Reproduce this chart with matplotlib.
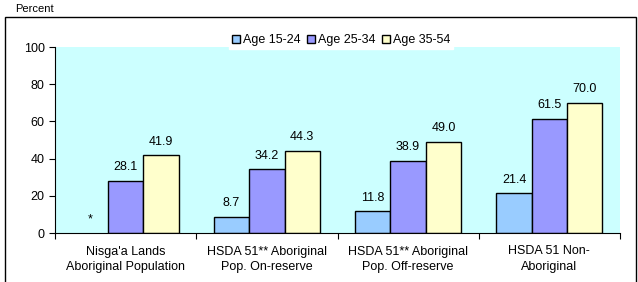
import matplotlib
matplotlib.use("Agg")
import matplotlib.pyplot as plt
from matplotlib.patches import Rectangle
import numpy as np

plt.rcParams['font.family'] = ['Liberation Sans', 'DejaVu Sans']

categories = ["Nisga'a Lands\nAboriginal Population",
              "HSDA 51** Aboriginal\nPop. On-reserve",
              "HSDA 51** Aboriginal\nPop. Off-reserve",
              "HSDA 51 Non-\nAboriginal"]
series_names = ["Age 15-24", "Age 25-34", "Age 35-54"]
age_15_24 = [np.nan, 8.7, 11.8, 21.4]
age_25_34 = [28.1, 34.2, 38.9, 61.5]
age_35_54 = [41.9, 44.3, 49.0, 70.0]
labels_15_24 = ["*", "8.7", "11.8", "21.4"]
colors = ["#99CCFF", "#9999FF", "#FFFFCC"]

fig = plt.figure(figsize=(6.38, 2.82), dpi=100)
W, H = 638, 282
fig.patches.append(Rectangle((5 / W, -0.1), 631 / W, (H - 17) / H + 0.1,
                             transform=fig.transFigure, fill=False,
                             edgecolor="black", linewidth=1.0))
ax = fig.add_axes([55 / W, (H - 233) / H, 565 / W, 186 / H])
ax.set_facecolor("#CCFFFF")

x = np.arange(len(categories))
w = 0.25
series = [age_15_24, age_25_34, age_35_54]
for i, (vals, col, name) in enumerate(zip(series, colors, series_names)):
    arr = np.array(vals, dtype=float)
    mask = ~np.isnan(arr)
    ax.bar((x + (i - 1) * w)[mask], arr[mask], width=w, color=col,
           edgecolor="black", linewidth=1.0, label=name)
    for j, val in enumerate(vals):
        if i == 0:
            txt = labels_15_24[j]
            yv = 0 if np.isnan(val) else val
        else:
            txt = f"{val:.1f}"
            yv = val
        ax.text(x[j] + (i - 1) * w, yv + 4, txt, ha="center", va="bottom",
                fontsize=9)

ax.set_xlim(-0.5, len(categories) - 0.5)
ax.set_ylim(0, 100)
ax.set_yticks([0, 20, 40, 60, 80, 100])
ax.set_xticks(np.arange(-0.5, len(categories), 1.0))
ax.set_xticklabels([])
ax.set_xticks(x, minor=True)
ax.set_xticklabels(categories, minor=True, fontsize=9, linespacing=1.35)
ax.tick_params(axis="x", which="minor", length=0, pad=9)
ax.tick_params(axis="x", which="major", length=4, direction="out")
ax.tick_params(axis="y", labelsize=9, length=4)
for s in ["top", "right"]:
    ax.spines[s].set_visible(False)

fig.text(15 / W, 1 - 9 / H, "Percent", fontsize=8, va="center", ha="left")

leg = ax.legend(loc="upper center", bbox_to_anchor=(0.506, 1.115), ncol=3,
                fontsize=9, frameon=True, fancybox=False, framealpha=1,
                edgecolor="white", handlelength=0.7, handleheight=0.7,
                handletextpad=0.2, columnspacing=0.5, borderpad=0.2)

fig.savefig("out.png", dpi=100)
